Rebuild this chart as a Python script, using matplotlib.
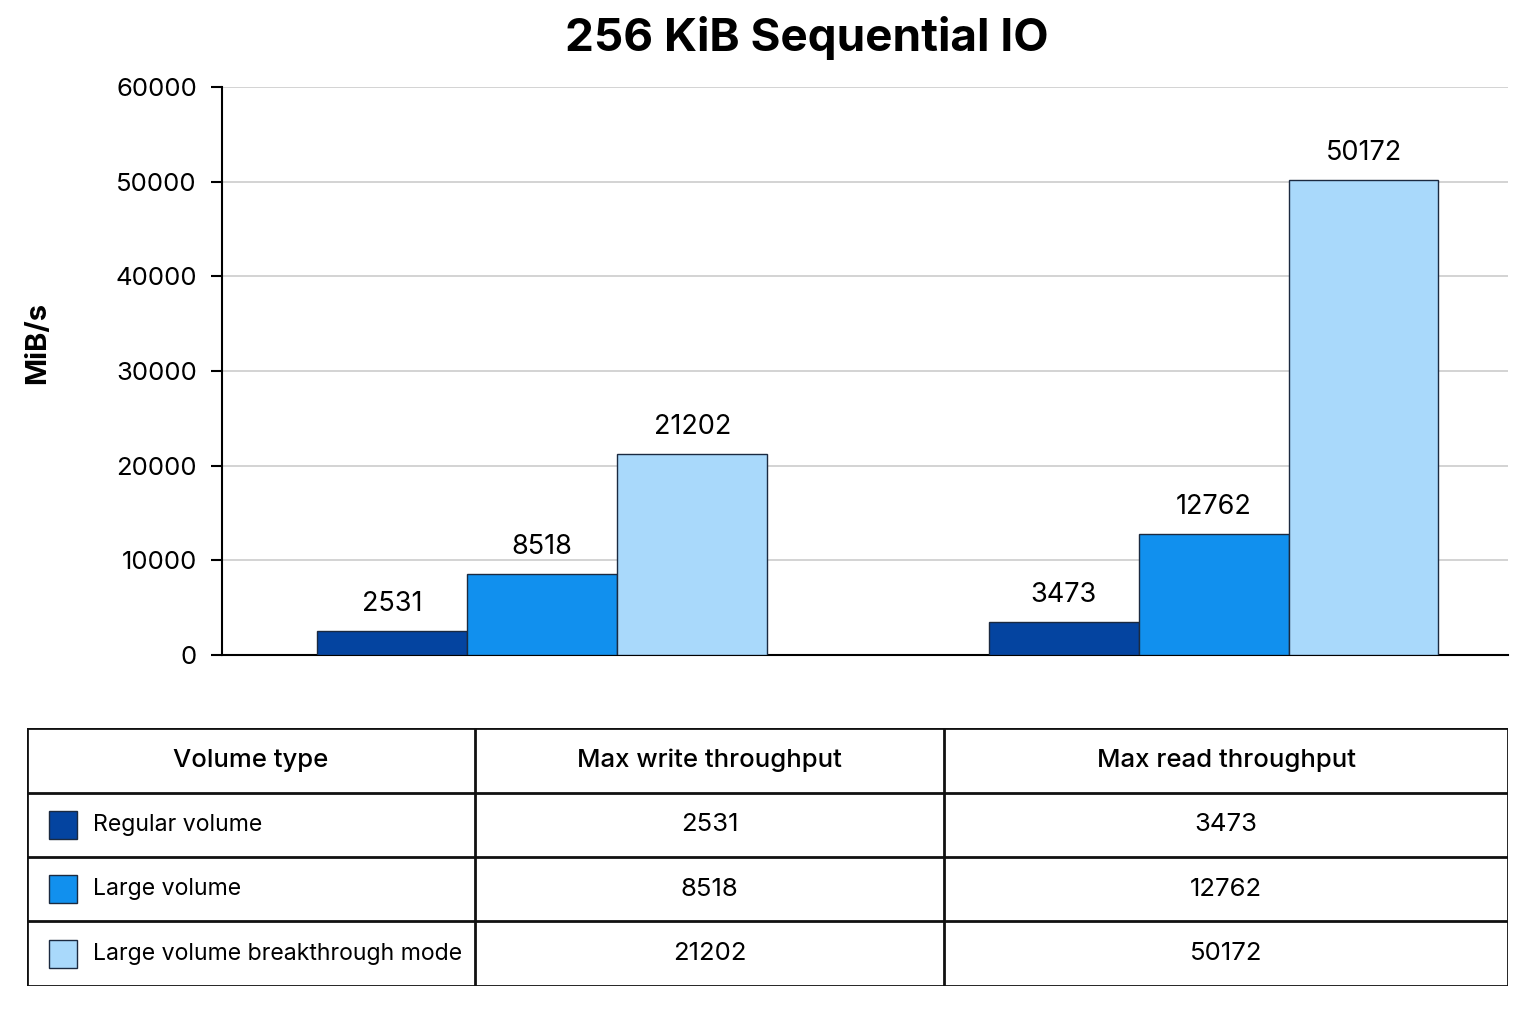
import matplotlib.pyplot as plt
from matplotlib.patches import Rectangle

plt.rcParams['font.family'] = ['Inter', 'DejaVu Sans']

groups = ['Max write throughput', 'Max read throughput']
series = ['Regular volume', 'Large volume', 'Large volume breakthrough mode']
values = {
    'Regular volume': [2531, 3473],
    'Large volume': [8518, 12762],
    'Large volume breakthrough mode': [21202, 50172],
}
colors = ['#0444a0', '#1190ee', '#a9d9fb']
yticks = [0, 10000, 20000, 30000, 40000, 50000, 60000]

fig = plt.figure(figsize=(15.36, 10.16), dpi=100)
fig.patch.set_facecolor('white')

# bar chart
ax = fig.add_axes([0.1445, 0.3553, 0.8373, 0.5591])
w = 0.2234
for i, name in enumerate(series):
    xs = [g + (i - 1) * w for g in range(len(groups))]
    bars = ax.bar(xs, values[name], width=w, color=colors[i],
                  edgecolor='#1b2a40', linewidth=1, zorder=3)
    for b, v in zip(bars, values[name]):
        ax.annotate(str(v), (b.get_x() + b.get_width() / 2, v),
                    xytext=(0, 10), textcoords='offset points',
                    ha='center', va='bottom', fontsize=19.5)

ax.set_xlim(-0.477, 1.4387)
ax.set_ylim(0, 60000)
ax.set_yticks(yticks)
ax.set_yticklabels([str(t) for t in yticks], fontsize=18.5)
ax.set_xticks([])
ax.grid(axis='y', color='#cccccc', linewidth=1.2, zorder=0)
for s in ['top', 'right']:
    ax.spines[s].set_visible(False)
ax.spines['left'].set_linewidth(1.5)
ax.spines['bottom'].set_linewidth(1.5)
ax.tick_params(axis='y', length=8, width=1.5, pad=10)
ax.set_ylabel('MiB/s', fontsize=21, fontweight='bold')
ax.yaxis.set_label_coords(-0.133, 0.55)
fig.text(0.525, 0.963, '256 KiB Sequential IO', fontsize=33, fontweight='bold',
         ha='center', va='center')

# table below with legend swatches
tx = fig.add_axes([0.0176, 0.0295, 0.9642, 0.254])
tx.set_xlim(27, 1508)
tx.set_ylim(986, 728)
tx.axis('off')
col_edges = [27, 475, 944, 1508]
row_edges = [728, 793, 857, 921, 986]
for x in col_edges:
    tx.plot([x, x], [row_edges[0], row_edges[-1]], color='#111111', lw=2)
for y in row_edges:
    tx.plot([col_edges[0], col_edges[-1]], [y, y], color='#111111', lw=2)

header = ['Volume type'] + groups
for j, h in enumerate(header):
    tx.text((col_edges[j] + col_edges[j + 1]) / 2, (row_edges[0] + row_edges[1]) / 2,
            h, ha='center', va='center', fontsize=18.5, fontweight='medium')

for i, name in enumerate(series):
    yc = (row_edges[i + 1] + row_edges[i + 2]) / 2
    tx.add_patch(Rectangle((49, yc - 14), 28, 28, facecolor=colors[i],
                           edgecolor='#1b2a40', lw=1))
    tx.text(93, yc, name, ha='left', va='center', fontsize=16.6)
    for j in range(len(groups)):
        tx.text((col_edges[j + 1] + col_edges[j + 2]) / 2, yc, str(values[name][j]),
                ha='center', va='center', fontsize=18.5)

fig.savefig('out.png', dpi=100, facecolor='white')
